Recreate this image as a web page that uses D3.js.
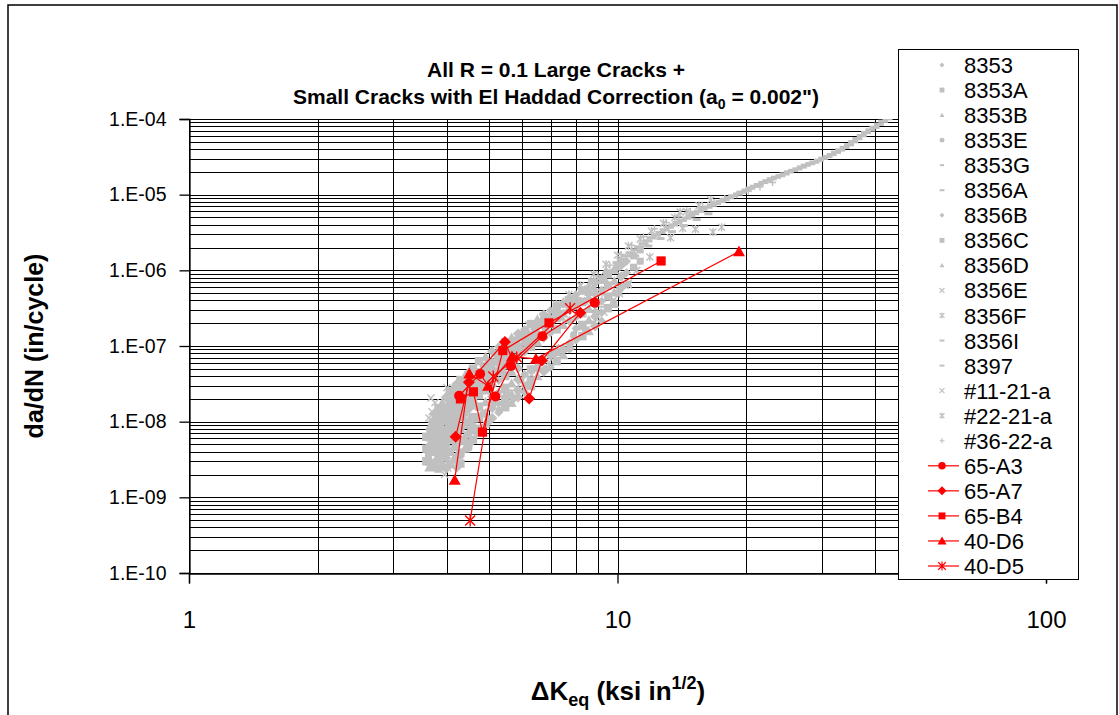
<!DOCTYPE html>
<html>
<head>
<meta charset="utf-8">
<script src="https://cdn.jsdelivr.net/npm/d3@7"></script>
<style>
body{margin:0;background:#fff;}
svg{display:block;font-family:Arial,"Liberation Sans",sans-serif;}
</style>
</head>
<body>
<svg id="chart" width="1119" height="715"></svg>
<script>
// ---- data: [deltaK (ksi in^1/2), da/dN (in/cycle)] ----
var s8353 = [[3.65,5.0e-9],[3.72,2.8e-9],[3.80,8.9e-9],[3.85,4.0e-9],[3.92,1.0e-8],[4.00,5.6e-9],[4.05,1.58e-8],[4.15,8.9e-9],[4.25,2.0e-8],[4.35,1.12e-8],[4.45,2.8e-8],[4.55,1.58e-8],[4.65,3.55e-8],[4.80,2.5e-8],[4.95,5.0e-8],[5.10,3.55e-8],[5.30,7.6e-8],[5.50,5.6e-8],[5.75,1.12e-7],[6.00,8.9e-8],[6.40,1.66e-7],[6.80,1.58e-7],[7.20,2.8e-7],[7.80,3.16e-7],[8.40,5.6e-7],
    [5.28,9.8e-8],[5.28,6.9e-8],[5.28,4.9e-8],[5.28,3.5e-8],[5.28,2.45e-8],[5.28,1.74e-8],[5.28,1.32e-8],
    [6.07,1.66e-7],[6.07,1.17e-7],[6.07,8.3e-8],[6.07,4.2e-8],[6.07,2.95e-8],[6.07,2.45e-8],
    [6.97,2.95e-7],[6.97,2.1e-7],[6.97,1.48e-7],[6.97,7.4e-8],[6.97,5.2e-8],
    [8.00,4.8e-7],[8.00,3.4e-7],[8.00,2.4e-7],[8.00,1.7e-7],[8.00,1.2e-7],
    [9.18,7.8e-7],[9.18,5.5e-7],[9.18,3.9e-7],[9.18,2.75e-7],[9.18,2.14e-7],
    [10.5,1.32e-6],[10.5,9.3e-7],[10.5,6.6e-7]];
var s8353A = [[3.62,3.55e-9],[3.70,6.3e-9],[3.78,4.5e-9],[3.88,7.9e-9],[3.95,5.0e-9],[4.02,1.12e-8],[4.10,7.1e-9],[4.20,1.58e-8],[4.30,2.24e-8],[4.40,1.41e-8],[4.50,3.16e-8],[4.62,2.0e-8],[4.75,4.2e-8],[4.90,2.8e-8],[5.05,5.6e-8],[5.25,4.5e-8],[5.45,8.9e-8],[5.70,7.1e-8],[5.95,1.32e-7],[6.25,1.12e-7],[6.60,2.0e-7],[7.00,1.9e-7],[7.50,3.55e-7],[8.10,4.0e-7],[8.70,7.1e-7],
    [10.9,1.55e-6],[10.9,1.1e-6],[11.3,1.86e-6],[11.3,1.32e-6]];
var s8353B = [[3.68,2.5e-9],[3.75,7.9e-9],[3.83,6.3e-9],[3.90,3.55e-9],[3.98,7.9e-9],[4.08,1.26e-8],[4.18,7.9e-9],[4.28,1.41e-8],[4.38,2.5e-8],[4.48,1.78e-8],[4.58,3.3e-8],[4.70,2.24e-8],[4.85,4.5e-8],[5.00,3.16e-8],[5.20,6.3e-8],[5.40,5.0e-8],[5.65,1.0e-7],[5.90,7.9e-8],[6.20,1.51e-7],[6.55,1.32e-7],[6.95,2.5e-7],[7.40,2.4e-7],[8.00,4.5e-7],[8.80,6.0e-7],[9.40,1.0e-6]];
var s8353E = [[4.30,3.55e-9],[4.40,5.6e-9],[4.50,4.5e-9],[4.60,8.9e-9],[4.70,7.1e-9],[4.85,1.26e-8],[5.00,1.0e-8],[5.15,1.78e-8],[5.30,1.41e-8],[5.50,2.4e-8],[5.70,2.0e-8],[5.95,3.55e-8],[6.20,3.16e-8],[6.50,5.0e-8],[6.80,5.0e-8],[7.10,7.9e-8],[7.50,8.9e-8],[7.90,1.41e-7],[8.40,1.66e-7],[8.90,2.8e-7],[9.50,3.16e-7]];
var s8353G = [[4.25,2.5e-9],[4.35,4.0e-9],[4.45,6.3e-9],[4.55,5.6e-9],[4.65,1.0e-8],[4.78,8.9e-9],[4.92,1.41e-8],[5.08,1.12e-8],[5.22,1.9e-8],[5.40,1.66e-8],[5.60,2.6e-8],[5.85,2.4e-8],[6.10,4.0e-8],[6.40,3.8e-8],[6.70,6.3e-8],[7.00,5.6e-8],[7.30,1.0e-7],[7.70,1.12e-7],[8.20,1.78e-7],[8.70,2.1e-7],[9.20,3.3e-7],[9.80,4.0e-7]];
var s8356A = [[10.0,1.26e-6],[10.23,1.40e-6],[10.5,1.55e-6],[10.72,1.70e-6],[11.0,1.86e-6],[11.22,2.04e-6],[11.5,2.24e-6],[11.75,2.45e-6],[12.0,2.69e-6],[12.3,2.92e-6],[12.6,3.16e-6],[12.88,3.43e-6],[13.2,3.72e-6],[13.49,3.98e-6],[13.8,4.27e-6],[14.13,4.57e-6],[14.5,4.9e-6],[14.79,5.25e-6],[15.1,5.62e-6],[15.49,6.03e-6],[15.8,6.46e-6],[16.22,6.84e-6],[16.6,7.24e-6],[16.98,7.67e-6],[17.4,8.13e-6],[17.78,8.61e-6],[18.2,9.12e-6],[18.62,9.66e-6],[19.1,1.02e-5],[19.5,1.08e-5],[20.0,1.15e-5],[20.42,1.22e-5],[20.9,1.29e-5],[21.38,1.36e-5],[21.9,1.45e-5],[22.39,1.53e-5],[22.9,1.62e-5],[23.44,1.70e-5],[24.0,1.78e-5],[24.55,1.88e-5],[25.1,2.0e-5],[25.7,2.09e-5],[26.3,2.19e-5],[26.92,2.32e-5],[27.5,2.45e-5],[28.18,2.57e-5],[28.8,2.69e-5],[29.51,2.85e-5],[30.2,3.02e-5],[30.9,3.2e-5],[31.6,3.39e-5],[32.36,3.63e-5],[33.1,3.89e-5],[33.88,4.22e-5],[34.7,4.57e-5],[35.48,5.01e-5],[36.3,5.5e-5],[37.15,6.03e-5],[38.0,6.61e-5],[38.9,7.16e-5],[39.8,7.76e-5],[40.74,8.51e-5],[41.7,9.33e-5],[42.66,1.01e-4]];
var s8356B = [[3.78,2.5e-9],[3.62,4.5e-9],[3.70,1.0e-8],[3.76,5.6e-9],[3.85,1.26e-8],[3.95,7.1e-9],[4.05,2.0e-8],[4.12,1.2e-8],[4.22,2.4e-8],[4.32,1.58e-8],[4.42,3.3e-8],[4.52,2.24e-8],[4.68,4.0e-8],[4.82,3.16e-8],[5.00,6.0e-8],[5.18,4.5e-8],[5.35,8.9e-8],[5.60,7.1e-8],[5.85,1.26e-7],[6.15,1.05e-7],[6.50,1.9e-7],
    [3.74,1.26e-8],[3.74,8.7e-9],[3.74,6.0e-9],[3.74,4.2e-9],[3.74,2.9e-9],
    [3.98,2.1e-8],[3.98,1.45e-8],[3.98,1.0e-8],[3.98,6.9e-9],[3.98,4.8e-9],[3.98,3.3e-9],[3.98,2.4e-9],
    [4.22,3.16e-8],[4.22,2.2e-8],[4.22,1.51e-8],[4.22,1.05e-8],[4.22,7.2e-9],[4.22,5.0e-9],[4.22,3.5e-9],[4.22,2.5e-9],
    [4.50,4.5e-8],[4.50,3.1e-8],[4.50,2.14e-8],[4.50,1.48e-8],[4.50,1.02e-8],[4.50,7.1e-9],[4.50,5.0e-9],
    [5.10,8.5e-8],[5.10,6.0e-8],[5.10,4.3e-8],[5.10,3.0e-8],[5.10,2.14e-8],[5.10,1.51e-8],[5.10,1.12e-8],
    [5.86,1.45e-7],[5.86,1.02e-7],[5.86,7.2e-8],[5.86,5.1e-8],[5.86,3.6e-8],[5.86,2.6e-8],[5.86,2.1e-8],
    [6.73,2.6e-7],[6.73,1.82e-7],[6.73,1.29e-7],[6.73,6.5e-8],[6.73,4.6e-8],
    [7.73,4.3e-7],[7.73,3.0e-7],[7.73,2.14e-7],[7.73,1.07e-7],[7.73,9.3e-8],
    [8.87,6.9e-7],[8.87,4.9e-7],[8.87,3.5e-7],[8.87,2.45e-7],[8.87,1.82e-7],
    [10.2,1.17e-6],[10.2,8.3e-7],[10.2,5.9e-7]];
var s8356C = [[3.66,7.1e-9],[3.74,4.0e-9],[3.82,1.12e-8],[3.90,5.6e-9],[3.98,1.41e-8],[4.06,8.9e-9],[4.15,1.78e-8],[4.25,1.2e-8],[4.35,2.8e-8],[4.45,2.0e-8],[4.58,4.0e-8],[4.72,2.8e-8],[4.88,5.2e-8],[5.05,4.0e-8],[5.25,7.6e-8],[5.45,6.6e-8],[5.70,1.12e-7],[6.00,1.41e-7],[6.35,1.32e-7],[6.75,2.4e-7],[7.20,2.6e-7],[7.70,4.0e-7],
    [3.58,6.3e-9],[3.58,4.4e-9],[3.58,3.0e-9],
    [3.82,1.51e-8],[3.82,1.05e-8],[3.82,7.2e-9],[3.82,5.0e-9],[3.82,3.5e-9],[3.82,2.4e-9],
    [4.06,2.5e-8],[4.06,1.74e-8],[4.06,1.2e-8],[4.06,8.3e-9],[4.06,5.8e-9],[4.06,4.0e-9],[4.06,2.75e-9],
    [4.30,3.55e-8],[4.30,2.45e-8],[4.30,1.7e-8],[4.30,1.17e-8],[4.30,8.1e-9],[4.30,5.6e-9],[4.30,3.9e-9],[4.30,2.8e-9],
    [4.60,5.0e-8],[4.60,3.5e-8],[4.60,2.4e-8],[4.60,1.66e-8],[4.60,1.15e-8],[4.60,7.9e-9],[4.60,5.8e-9],
    [4.75,6.3e-8],[4.75,4.5e-8],[4.75,3.16e-8],[4.75,2.24e-8],[4.75,1.58e-8],[4.75,1.12e-8],[4.75,7.9e-9],
    [5.47,1.12e-7],[5.47,7.9e-8],[5.47,5.6e-8],[5.47,4.0e-8],[5.47,2.8e-8],[5.47,2.0e-8],[5.47,1.55e-8],
    [6.28,1.95e-7],[6.28,1.38e-7],[6.28,9.8e-8],[6.28,4.9e-8],[6.28,3.5e-8],[6.28,2.95e-8],
    [7.21,3.3e-7],[7.21,2.34e-7],[7.21,1.66e-7],[7.21,8.3e-8],[7.21,6.3e-8],
    [8.28,5.4e-7],[8.28,3.8e-7],[8.28,2.7e-7],[8.28,1.9e-7],[8.28,1.35e-7],
    [9.50,8.9e-7],[9.50,6.3e-7],[9.50,4.5e-7],[9.50,3.16e-7]];
var s8356D = [[3.64,2.5e-9],[3.72,5.0e-9],[3.80,3.16e-9],[3.87,7.1e-9],[3.94,4.5e-9],[4.03,7.9e-9],[4.12,1.41e-8],[4.22,1.0e-8],[4.32,1.9e-8],[4.42,2.4e-8],[4.55,2.5e-8],[4.66,3.0e-8],[4.78,3.55e-8],[4.95,4.0e-8],[5.12,5.2e-8],[5.32,6.3e-8],[5.55,7.9e-8],[5.80,1.0e-7],[6.10,1.26e-7],[6.45,1.58e-7],[6.85,2.1e-7],[7.30,2.8e-7],[7.90,3.8e-7],[8.60,5.2e-7],[9.30,7.9e-7],[9.90,1.12e-6],
    [3.66,8.9e-9],[3.66,6.2e-9],[3.66,4.3e-9],[3.66,2.95e-9],
    [3.90,1.78e-8],[3.90,1.23e-8],[3.90,8.5e-9],[3.90,5.9e-9],[3.90,4.1e-9],[3.90,2.8e-9],
    [4.14,2.9e-8],[4.14,2.0e-8],[4.14,1.38e-8],[4.14,9.5e-9],[4.14,6.6e-9],[4.14,4.6e-9],[4.14,3.16e-9],
    [4.40,4.0e-8],[4.40,2.75e-8],[4.40,1.9e-8],[4.40,1.32e-8],[4.40,9.1e-9],[4.40,6.3e-9],[4.40,4.4e-9],
    [4.92,7.2e-8],[4.92,5.1e-8],[4.92,3.6e-8],[4.92,2.6e-8],[4.92,1.82e-8],[4.92,1.29e-8],[4.92,9.5e-9],
    [5.66,1.29e-7],[5.66,9.1e-8],[5.66,6.5e-8],[5.66,4.6e-8],[5.66,3.2e-8],[5.66,2.3e-8],[5.66,1.78e-8],
    [6.50,2.24e-7],[6.50,1.58e-7],[6.50,1.12e-7],[6.50,5.6e-8],[6.50,4.0e-8],
    [7.47,3.8e-7],[7.47,2.7e-7],[7.47,1.9e-7],[7.47,9.5e-8],[7.47,7.6e-8],
    [8.57,6.2e-7],[8.57,4.4e-7],[8.57,3.1e-7],[8.57,2.2e-7],[8.57,1.58e-7],
    [9.83,1.02e-6],[9.83,7.2e-7],[9.83,5.1e-7],[9.83,3.6e-7]];
var s8356E = [[5.80,2.8e-8],[6.30,4.2e-8],[6.90,6.0e-8],[7.40,9.5e-8],[7.90,1.2e-7],[8.30,1.78e-7],[8.80,2.0e-7],[9.30,2.8e-7],[9.45,3.2e-7],[9.70,3.8e-7],[9.80,4.1e-7],[10.1,5.2e-7],[10.6,6.8e-7]];
var s8356F = [[6.2,1.9e-7],[6.7,2.5e-7],[7.2,3.55e-7],[7.7,4.8e-7],[8.2,6.3e-7],[8.8,8.9e-7],[9.4,1.2e-6],[10.0,1.58e-6],[10.6,2.1e-6],[11.3,2.6e-6],[12.0,3.3e-6],[12.8,4.2e-6],[13.6,5.0e-6],[14.5,6.0e-6],[15.5,7.2e-6],[16.5,8.5e-6]];
var s8356I = [[4.10,1.05e-8],[4.40,1.74e-8],[4.75,3.16e-8],[5.10,4.8e-8],[5.50,7.6e-8],[5.95,1.07e-7],[6.40,1.51e-7],[6.90,2.1e-7],[7.40,2.9e-7],[7.95,4.0e-7],[8.50,5.4e-7],[9.10,7.6e-7],[9.60,1.0e-6]];
var s8397 = [[3.85,5.0e-9],[4.15,1.12e-8],[4.50,2.1e-8],[4.90,3.55e-8],[5.30,5.6e-8],[5.75,8.9e-8],[6.25,1.26e-7],[6.80,1.9e-7],[7.35,2.6e-7],[7.95,3.6e-7],[8.60,5.0e-7],[9.25,6.9e-7],
    [11.0,1.55e-6],[11.8,2.1e-6],[12.6,2.63e-6],[13.4,3.24e-6],[14.3,3.9e-6],[15.3,4.7e-6],[16.3,5.6e-6]];
var s11_21a = [[3.67,2.06e-8],[3.69,1.35e-8],[4.02,2.45e-9],[3.95,2.0e-9],[3.58,6.3e-9],[3.63,1.12e-8],[3.75,1.78e-8],[4.00,2.8e-8]];
var s22_21a = [[8.5,4.0e-7],[9.2,5.0e-7],[10.1,4.9e-7],[10.6,6.4e-7],[11.1,1.0e-6],[11.9,1.5e-6],[13.3,2.7e-6],[14.0,5.9e-6],[14.2,3.6e-6],[15.2,3.5e-6],[16.7,3.2e-6],[17.5,3.7e-6]];
var s36_22a = [[9.0,8.5e-7],[9.6,1.17e-6],[10.2,1.62e-6],[10.8,2.14e-6],[11.5,2.8e-6],[12.2,3.55e-6],[13.0,4.3e-6],[13.9,5.1e-6],[14.8,6.0e-6],[15.8,6.9e-6],[16.8,7.9e-6],[17.8,8.9e-6],[19.0,1.0e-5],[20.2,1.12e-5],[21.5,1.26e-5],[23.0,1.45e-5]];

// small-crack specimens (red, connected)
var s65A3 = [[4.27,2.2e-8],[4.78,4.28e-8],[5.19,2.15e-8],[5.64,5.46e-8],[6.68,1.35e-7],[8.85,3.74e-7]];
var s65A7 = [[4.19,6.3e-9],[4.50,3.32e-8],[5.46,1.13e-7],[6.22,2.02e-8],[6.66,6.42e-8],[8.19,2.76e-7]];
var s65B4 = [[4.30,2.0e-8],[4.61,2.48e-8],[4.84,7.27e-9],[5.40,8.7e-8],[6.92,2.02e-7],[12.64,1.33e-6]];
var s40D6 = [[4.17,1.7e-9],[4.51,4.32e-8],[4.99,2.97e-8],[5.67,7.24e-8],[6.45,6.76e-8],[19.21,1.77e-6]];
var s40D5 = [[4.53,4.94e-10],[5.13,3.94e-8],[5.82,7.11e-8],[7.75,3.16e-7]];

var xTicks = [1, 10, 100];
var yTicks = [1e-10, 1e-9, 1e-8, 1e-7, 1e-6, 1e-5, 1e-4];

var GRAY = "#c0c0c0", RED = "#ff0000";

var series = [
    {name: "8353", data: s8353, shape: "diamond", r: 4.5},
    {name: "8353A", data: s8353A, shape: "square", r: 3.5},
    {name: "8353B", data: s8353B, shape: "triangle", r: 4.5},
    {name: "8353E", data: s8353E, shape: "circle", r: 3.6},
    {name: "8353G", data: s8353G, shape: "dash", r: 3},
    {name: "8356A", data: s8356A, shape: "dash", r: 5, t: 1.6},
    {name: "8356B", data: s8356B, shape: "diamond", r: 5.2},
    {name: "8356C", data: s8356C, shape: "square", r: 4.2},
    {name: "8356D", data: s8356D, shape: "triangle", r: 5.2},
    {name: "8356E", data: s8356E, shape: "x", r: 3.5},
    {name: "8356F", data: s8356F, shape: "star", r: 3.5},
    {name: "8356I", data: s8356I, shape: "dash", r: 3.5},
    {name: "8397", data: s8397, shape: "dash", r: 4, t: 1.5},
    {name: "#11-21-a", data: s11_21a, shape: "x", r: 3.5},
    {name: "#22-21-a", data: s22_21a, shape: "star", r: 3.5},
    {name: "#36-22-a", data: s36_22a, shape: "plus", r: 3.5},
    {name: "65-A3", data: s65A3, shape: "circle", r: 5, red: true},
    {name: "65-A7", data: s65A7, shape: "diamond", r: 6, red: true},
    {name: "65-B4", data: s65B4, shape: "square", r: 4.6, red: true},
    {name: "40-D6", data: s40D6, shape: "triangle", r: 6, red: true},
    {name: "40-D5", data: s40D5, shape: "star", r: 5, red: true}
];

function shapePath(shape, r, t) {
    t = t || 1;
    switch (shape) {
        case "circle": return d3.symbol(d3.symbolCircle, Math.PI * r * r)();
        case "diamond": return "M0," + (-r) + "L" + r + ",0L0," + r + "L" + (-r) + ",0Z";
        case "square": return "M" + (-r) + "," + (-r) + "H" + r + "V" + r + "H" + (-r) + "Z";
        case "triangle": return "M0," + (-r) + "L" + r + "," + (r * 0.8) + "L" + (-r) + "," + (r * 0.8) + "Z";
        case "dash": return "M" + (-r) + "," + (-t) + "H" + r + "V" + t + "H" + (-r) + "Z";
        case "x": return "M" + (-r) + "," + (-r) + "L" + r + "," + r + "M" + (-r) + "," + r + "L" + r + "," + (-r);
        case "star": return "M" + (-r) + "," + (-r) + "L" + r + "," + r + "M" + (-r) + "," + r + "L" + r + "," + (-r) + "M0," + (-r * 1.2) + "L0," + (r * 1.2);
        case "plus": return "M" + (-r) + ",0H" + r + "M0," + (-r) + "V" + r;
    }
}
var strokeShapes = {x: true, star: true, plus: true};

var svg = d3.select("#chart");
var plotLeft = 189, plotRight = 1046, plotTop = 119, plotBottom = 573;

var x = d3.scaleLog().domain([1, 100]).range([plotLeft, plotRight]);
var y = d3.scaleLog().domain([1e-10, 1e-4]).range([plotBottom, plotTop]);

// chart border
svg.append("rect").attr("x", 8).attr("y", 5).attr("width", 1109).attr("height", 720)
    .attr("fill", "#fff").attr("stroke", "#000").attr("stroke-width", 1.5);

// gridlines
var grid = svg.append("g").attr("shape-rendering", "crispEdges").attr("stroke", "#000").attr("stroke-width", 1);
grid.selectAll("line.h").data(y.ticks()).enter().append("line")
    .attr("x1", plotLeft).attr("x2", plotRight)
    .attr("y1", d => Math.round(y(d)) + 0.5).attr("y2", d => Math.round(y(d)) + 0.5);
grid.selectAll("line.v").data(x.ticks()).enter().append("line")
    .attr("y1", plotTop).attr("y2", plotBottom)
    .attr("x1", d => Math.round(x(d)) + 0.5).attr("x2", d => Math.round(x(d)) + 0.5);

svg.append("clipPath").attr("id", "plotclip").append("rect")
    .attr("x", plotLeft - 6).attr("y", plotTop).attr("width", plotRight - plotLeft + 12).attr("height", plotBottom - plotTop + 6);

var plot = svg.append("g").attr("clip-path", "url(#plotclip)");

var line = d3.line().x(d => x(d[0])).y(d => y(d[1]));

series.forEach(function(s) {
    var col = s.red ? RED : GRAY;
    var g = plot.append("g");
    if (s.red) {
        g.append("path").attr("d", line(s.data)).attr("fill", "none").attr("stroke", col).attr("stroke-width", 1.2);
    }
    g.selectAll("path.m").data(s.data).enter().append("path")
        .attr("class", "m")
        .attr("transform", d => "translate(" + x(d[0]) + "," + y(d[1]) + ")")
        .attr("d", shapePath(s.shape, s.r, s.t))
        .attr("fill", strokeShapes[s.shape] ? "none" : col)
        .attr("stroke", strokeShapes[s.shape] ? col : "none")
        .attr("stroke-width", 1.4);
});

// axes
var yAxis = d3.axisLeft(y).tickValues(yTicks).tickSize(10).tickPadding(13)
    .tickFormat(d => "1.E" + (Math.log10(d) < 0 ? "-" : "+") + String(Math.abs(Math.round(Math.log10(d)))).padStart(2, "0"));
var gy = svg.append("g").attr("transform", "translate(" + (plotLeft + 0.5) + ",0)").call(yAxis);
var xAxis = d3.axisBottom(x).tickValues(xTicks).tickSize(10).tickPadding(27).tickFormat(d3.format("d"));
var gx = svg.append("g").attr("transform", "translate(0," + (plotBottom + 0.5) + ")").call(xAxis);
[gx, gy].forEach(function(g) {
    g.select(".domain").attr("stroke", "#000").attr("stroke-width", 1.3);
    g.selectAll(".tick line").attr("stroke", "#000").attr("stroke-width", 1.3);
    g.selectAll(".tick text").attr("fill", "#000")
        .style("font-family", "Arial, 'Liberation Sans', sans-serif");
});
gy.selectAll(".tick text").style("font-size", "19.5px");
gx.selectAll(".tick text").style("font-size", "24px");

// title
var title = svg.append("g").attr("font-weight", "bold").attr("font-size", 21).attr("text-anchor", "middle");
title.append("text").attr("x", 556).attr("y", 77).text("All R = 0.1 Large Cracks +");
var t2 = title.append("text").attr("x", 556).attr("y", 104);
t2.append("tspan").text("Small Cracks with El Haddad Correction (a");
t2.append("tspan").attr("font-size", 14).attr("dy", 5).text("0");
t2.append("tspan").attr("dy", -5).text(" = 0.002\")");

// axis titles
var xt = svg.append("text").attr("x", 618).attr("y", 700).attr("text-anchor", "middle")
    .attr("font-weight", "bold").attr("font-size", 26);
xt.append("tspan").text("\u0394K");
xt.append("tspan").attr("font-size", 18).attr("dy", 6).text("eq");
xt.append("tspan").attr("dy", -6).text(" (ksi in");
xt.append("tspan").attr("font-size", 18).attr("dy", -11).text("1/2");
xt.append("tspan").attr("dy", 11).text(")");

svg.append("text").attr("transform", "translate(43,346) rotate(-90)").attr("text-anchor", "middle")
    .attr("font-weight", "bold").attr("font-size", 25).text("da/dN (in/cycle)");

// legend
var lg = svg.append("g");
lg.append("rect").attr("x", 898.5).attr("y", 49.5).attr("width", 180).attr("height", 530)
    .attr("fill", "#fff").attr("stroke", "#000").attr("stroke-width", 1);
series.forEach(function(s, i) {
    var cy = 65 + i * 25.05;
    var col = s.red ? RED : GRAY;
    var item = lg.append("g");
    if (s.red) {
        item.append("line").attr("x1", 928).attr("x2", 959).attr("y1", cy).attr("y2", cy)
            .attr("stroke", col).attr("stroke-width", 1.2);
    }
    var rr = s.red ? s.r * 0.75 : Math.min(s.r, 3.5) * 0.7;
    item.append("path").attr("transform", "translate(942," + cy + ")")
        .attr("d", shapePath(s.shape, rr, 1))
        .attr("fill", strokeShapes[s.shape] ? "none" : col)
        .attr("stroke", strokeShapes[s.shape] ? col : "none")
        .attr("stroke-width", 1.2);
    item.append("text").attr("x", 964).attr("y", cy + 8).attr("font-size", 22).text(s.name);
});
</script>
</body>
</html>
